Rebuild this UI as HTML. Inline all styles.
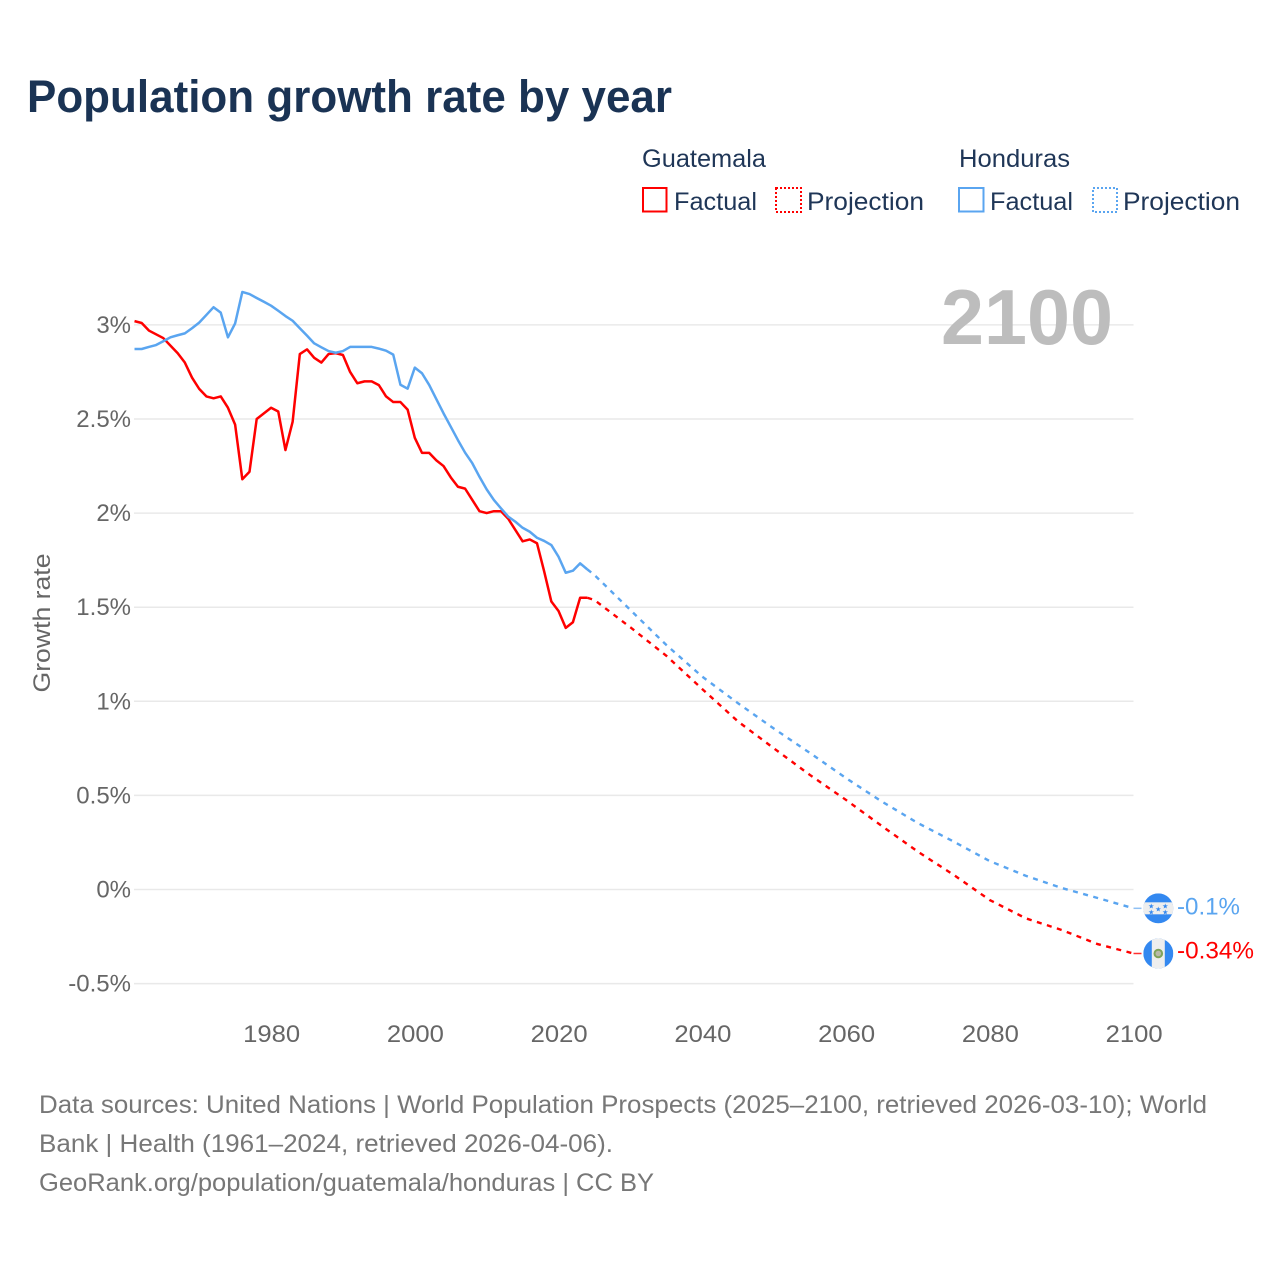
<!DOCTYPE html>
<html>
<head>
<meta charset="utf-8">
<title>Population growth rate by year</title>
<style>
html,body{margin:0;padding:0;background:#fff;width:1280px;height:1280px;overflow:hidden}
svg{display:block;font-family:"Liberation Sans",sans-serif}
</style>
</head>
<body>
<svg id="chart" xmlns="http://www.w3.org/2000/svg" width="1280" height="1280" viewBox="0 0 1280 1280">
  <defs>
    <clipPath id="flag-clip"><circle cx="0" cy="0" r="15"/></clipPath>
  </defs>
  <rect width="1280" height="1280" fill="#fff"/>
  <text x="27" y="112" font-size="45" font-weight="700" fill="#1a3354" textLength="645" lengthAdjust="spacingAndGlyphs">Population growth rate by year</text>

  <g font-size="25" fill="#1f3657">
    <text x="642" y="167" textLength="124" lengthAdjust="spacingAndGlyphs">Guatemala</text>
    <text x="959" y="167" textLength="111" lengthAdjust="spacingAndGlyphs">Honduras</text>
    <rect x="643" y="188" width="23.5" height="23.5" fill="none" stroke="#ff0000" stroke-width="2"/>
    <text x="674" y="210" textLength="83" lengthAdjust="spacingAndGlyphs">Factual</text>
    <rect x="776" y="188" width="25" height="24" fill="none" stroke="#ff0000" stroke-width="2" stroke-dasharray="2 2"/>
    <text x="807" y="210" textLength="117" lengthAdjust="spacingAndGlyphs">Projection</text>
    <rect x="959" y="188" width="24.5" height="23.5" fill="none" stroke="#5aa5f0" stroke-width="2"/>
    <text x="990" y="210" textLength="83" lengthAdjust="spacingAndGlyphs">Factual</text>
    <rect x="1093" y="188" width="24" height="24" fill="none" stroke="#5aa5f0" stroke-width="2" stroke-dasharray="2 2"/>
    <text x="1123" y="210" textLength="117" lengthAdjust="spacingAndGlyphs">Projection</text>
  </g>

  <g id="grid"></g>
  <g id="y-axis"></g>
  <g id="x-axis"></g>

  <text transform="translate(50,623) rotate(-90)" text-anchor="middle" font-size="24" fill="#666" textLength="139" lengthAdjust="spacingAndGlyphs">Growth rate</text>
  <text x="941" y="344" font-size="78" font-weight="700" fill="#bdbdbd" textLength="172" lengthAdjust="spacingAndGlyphs">2100</text>

  <g id="series"></g>

  <g id="flag-honduras">
    <g clip-path="url(#flag-clip)">
      <rect x="-15" y="-15" width="30" height="30" fill="#3388f0"/>
      <rect x="-15" y="-6" width="30" height="12" fill="#eeeeee"/>
      <g fill="#3388f0" font-size="7" text-anchor="middle" font-family="'DejaVu Sans',sans-serif">
        <text x="-7" y="0">★</text><text x="7" y="0">★</text>
        <text x="0" y="3">★</text>
        <text x="-7" y="6">★</text><text x="7" y="6">★</text>
      </g>
    </g>
  </g>
  <g id="flag-guatemala">
    <g clip-path="url(#flag-clip)">
      <rect x="-15" y="-15" width="30" height="30" fill="#3388f0"/>
      <rect x="-6.5" y="-15" width="13" height="30" fill="#eeeeee"/>
      <circle cx="0" cy="0" r="3.8" fill="#b9b9a8" stroke="#7fa35a" stroke-width="2"/>
    </g>
  </g>

  <g id="end-labels" font-size="24"></g>

  <g font-size="25" fill="#777777">
    <text x="39" y="1113" textLength="1168" lengthAdjust="spacingAndGlyphs">Data sources: United Nations | World Population Prospects (2025–2100, retrieved 2026-03-10); World</text>
    <text x="39" y="1152" textLength="574" lengthAdjust="spacingAndGlyphs">Bank | Health (1961–2024, retrieved 2026-04-06).</text>
    <text x="39" y="1191" textLength="615" lengthAdjust="spacingAndGlyphs">GeoRank.org/population/guatemala/honduras | CC BY</text>
  </g>
</svg>
<script>
var factualYears = [1961,1962,1963,1964,1965,1966,1967,1968,1969,1970,1971,1972,1973,1974,1975,1976,1977,1978,1979,1980,1981,1982,1983,1984,1985,1986,1987,1988,1989,1990,1991,1992,1993,1994,1995,1996,1997,1998,1999,2000,2001,2002,2003,2004,2005,2006,2007,2008,2009,2010,2011,2012,2013,2014,2015,2016,2017,2018,2019,2020,2021,2022,2023,2024];
var guatemalaFactual = [3.02,3.01,2.97,2.95,2.93,2.89,2.85,2.80,2.72,2.66,2.62,2.61,2.62,2.56,2.47,2.18,2.22,2.50,2.53,2.56,2.54,2.335,2.485,2.845,2.87,2.825,2.80,2.845,2.85,2.84,2.75,2.69,2.70,2.70,2.68,2.62,2.59,2.59,2.55,2.40,2.32,2.32,2.28,2.25,2.19,2.14,2.13,2.07,2.01,2.00,2.01,2.01,1.97,1.91,1.85,1.86,1.84,1.69,1.53,1.48,1.39,1.42,1.55,1.55];
var hondurasFactual = [2.872,2.872,2.883,2.893,2.913,2.934,2.945,2.955,2.982,3.012,3.053,3.094,3.065,2.934,3.008,3.175,3.164,3.143,3.123,3.102,3.075,3.047,3.022,2.982,2.943,2.902,2.881,2.861,2.852,2.861,2.883,2.883,2.883,2.883,2.874,2.863,2.842,2.682,2.661,2.773,2.743,2.681,2.605,2.530,2.459,2.388,2.321,2.265,2.193,2.126,2.070,2.025,1.981,1.954,1.922,1.901,1.869,1.852,1.830,1.768,1.683,1.694,1.733,1.701];
var projectionYears = [2024,2025,2030,2035,2040,2045,2050,2055,2060,2065,2070,2075,2080,2085,2090,2095,2100];
var guatemalaProjection = [1.55,1.538,1.393,1.242,1.065,0.892,0.749,0.608,0.476,0.337,0.201,0.077,-0.056,-0.153,-0.215,-0.29,-0.34];
var hondurasProjection = [1.701,1.671,1.485,1.299,1.131,0.989,0.854,0.725,0.592,0.467,0.353,0.254,0.151,0.073,0.008,-0.045,-0.10];
var yTickValues = [3,2.5,2,1.5,1,0.5,0,-0.5];
var yTickLabels = ["3%","2.5%","2%","1.5%","1%","0.5%","0%","-0.5%"];
var xTickYears = [1980,2000,2020,2040,2060,2080,2100];
var endLabels = ["-0.1%","-0.34%"];

var NS = "http://www.w3.org/2000/svg";
function xScale(year){ return 1133.5 + (year - 2100) * 7.187; }
function yScale(v){ return 889.5 - v * 188.2; }
function make(parent, tag, attrs){
  var el = document.createElementNS(NS, tag);
  for (var k in attrs) el.setAttribute(k, attrs[k]);
  parent.appendChild(el);
  return el;
}
function pathFrom(years, values){
  return years.map(function(y, i){
    return (i ? "L" : "M") + xScale(y).toFixed(2) + " " + yScale(values[i]).toFixed(2);
  }).join(" ");
}

var gridG = document.getElementById("grid");
var yAxisG = document.getElementById("y-axis");
var xAxisG = document.getElementById("x-axis");
var seriesG = document.getElementById("series");
var endG = document.getElementById("end-labels");

yTickValues.forEach(function(v, i){
  var line = make(gridG, "line", {x1:134, x2:1133.5, y1:yScale(v), y2:yScale(v), stroke:"#e9e9e9", "stroke-width":1.5});
  
  
  var t = make(yAxisG, "text", {x:131, y:yScale(v) + 8, "text-anchor":"end", "font-size":24, fill:"#666"});
  
  
  t.textContent = yTickLabels[i];
});

xTickYears.forEach(function(year){
  var t = make(xAxisG, "text", {x:xScale(year) + 0.6, y:1042, "text-anchor":"middle", "font-size":24, fill:"#666", textLength:57, lengthAdjust:"spacingAndGlyphs"});
  
  
  t.textContent = String(year);
});

var RED = "#ff0000", BLUE = "#5aa5f0";

var p1 = make(seriesG, "path", {d:pathFrom(projectionYears, hondurasProjection), fill:"none", stroke:BLUE, "stroke-width":2.4, "stroke-dasharray":"5 5.5"});


var p2 = make(seriesG, "path", {d:pathFrom(projectionYears, guatemalaProjection), fill:"none", stroke:RED, "stroke-width":2.4, "stroke-dasharray":"5 5.5"});


var p3 = make(seriesG, "path", {d:pathFrom(factualYears, guatemalaFactual), fill:"none", stroke:RED, "stroke-width":2.5, "stroke-linejoin":"round"});


var p4 = make(seriesG, "path", {d:pathFrom(factualYears, hondurasFactual), fill:"none", stroke:BLUE, "stroke-width":2.5, "stroke-linejoin":"round"});



var hondurasEnd = hondurasProjection[hondurasProjection.length - 1];
var guatemalaEnd = guatemalaProjection[guatemalaProjection.length - 1];
var xEnd = xScale(2100);

var c1 = make(seriesG, "line", {x1:xEnd, x2:xEnd + 8, y1:yScale(hondurasEnd), y2:yScale(hondurasEnd), stroke:"#8fc0f4", "stroke-width":1.5});


var c2 = make(seriesG, "line", {x1:xEnd, x2:xEnd + 8, y1:yScale(guatemalaEnd), y2:yScale(guatemalaEnd), stroke:"#ff3030", "stroke-width":1.5});



document.getElementById("flag-honduras").setAttribute("transform", "translate(1158.3," + yScale(hondurasEnd).toFixed(2) + ")");
document.getElementById("flag-guatemala").setAttribute("transform", "translate(1158.3," + yScale(guatemalaEnd).toFixed(2) + ")");

var l1 = make(endG, "text", {x:1177, y:yScale(hondurasEnd) + 6, fill:BLUE, textLength:63, lengthAdjust:"spacingAndGlyphs"});


l1.textContent = endLabels[0];
var l2 = make(endG, "text", {x:1177, y:yScale(guatemalaEnd) + 5, fill:RED, textLength:77, lengthAdjust:"spacingAndGlyphs"});


l2.textContent = endLabels[1];
</script>
</body>
</html>
